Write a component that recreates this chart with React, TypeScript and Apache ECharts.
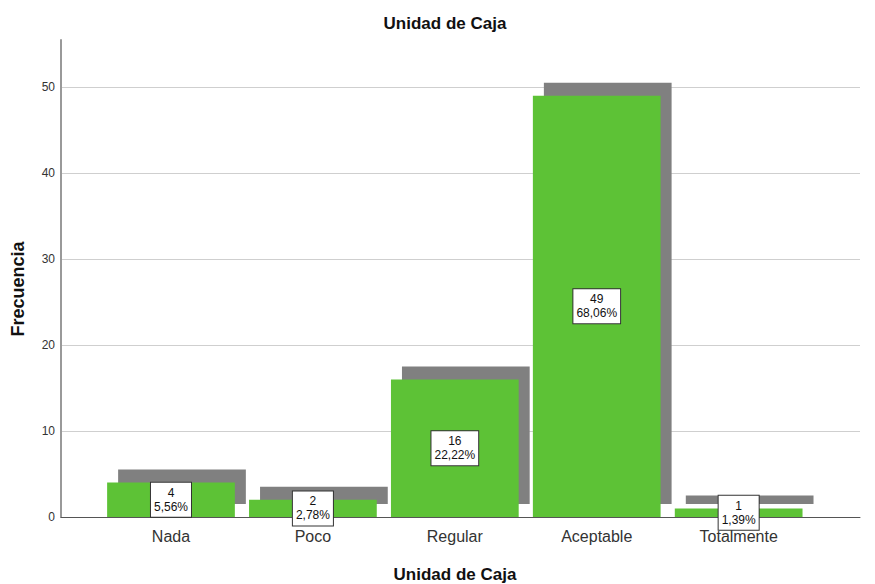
import React, { useEffect, useRef } from "react";
import * as echarts from "echarts";

const categories = ["Nada", "Poco", "Regular", "Aceptable", "Totalmente"];
const counts = [4, 2, 16, 49, 1];
const percentLabels = ["5,56%", "2,78%", "22,22%", "68,06%", "1,39%"];
const yTicks = [0, 10, 20, 30, 40, 50];

const FONT = "'Liberation Sans', Arial, sans-serif";

export default function App() {
  const ref = useRef<HTMLDivElement>(null);
  useEffect(() => {
    if (!ref.current) return;
    document.body.style.margin = "0";
    const chart = echarts.init(ref.current, undefined, { renderer: "svg" });
    const data = counts.map((v, i) => [i, v]);
    chart.setOption({
      animation: false,
      backgroundColor: "#ffffff",
      grid: { left: 61, right: 15, top: 40, bottom: 67 },
      graphic: [
        {
          type: "text",
          x: 445,
          y: 23,
          style: {
            text: "Unidad de Caja",
            font: `bold 17px ${FONT}`,
            fill: "#111",
            align: "center",
            verticalAlign: "middle",
          },
        },
        {
          type: "text",
          x: 455,
          y: 574,
          style: {
            text: "Unidad de Caja",
            font: `bold 17px ${FONT}`,
            fill: "#111",
            align: "center",
            verticalAlign: "middle",
          },
        },
        {
          type: "text",
          x: 18,
          y: 289,
          rotation: Math.PI / 2,
          style: {
            text: "Frecuencia",
            font: `bold 18px ${FONT}`,
            fill: "#111",
            align: "center",
            verticalAlign: "middle",
          },
        },
      ],
      xAxis: {
        type: "value",
        min: -0.775,
        max: 4.855,
        splitLine: { show: false },
        axisTick: { show: false },
        axisLine: { show: true, onZero: false, lineStyle: { color: "#555", width: 1 } },
        axisLabel: {
          customValues: [0, 1, 2, 3, 4],
          formatter: (v: number) => categories[Math.round(v)] ?? "",
          fontFamily: FONT,
          fontSize: 16,
          color: "#333",
          margin: 11,
        },
      },
      yAxis: {
        type: "value",
        min: 0,
        max: 55.47,
        axisLine: { show: true, onZero: false, lineStyle: { color: "#999", width: 2 } },
        axisTick: { show: false, customValues: yTicks },
        splitLine: { show: true, lineStyle: { color: "#cfcfcf", width: 1 } },
        axisLabel: {
          customValues: yTicks,
          fontFamily: FONT,
          fontSize: 12,
          color: "#333",
          margin: 6,
        },
      },
      series: [
        {
          type: "custom",
          data,
          clip: false,
          renderItem: (params: any, api: any) => {
            const i = api.value(0);
            const v = api.value(1);
            const top = api.coord([i, v]);
            const base = api.coord([i, 0]);
            const unit = api.size([1, 0])[0];
            const w = unit * 0.9;
            const x0 = top[0] - w / 2;
            const h = base[1] - top[1];
            return {
              type: "group",
              children: [
                {
                  type: "rect",
                  shape: { x: x0 + 11, y: top[1] - 13, width: w, height: h },
                  style: { fill: "#808080" },
                },
                {
                  type: "rect",
                  shape: { x: x0, y: top[1], width: w, height: h },
                  style: { fill: "#5DC236" },
                },
                {
                  type: "text",
                  x: top[0],
                  y: top[1] + h / 2,
                  z2: 10,
                  style: {
                    text: `${v}\n${percentLabels[i]}`,
                    font: `12px ${FONT}`,
                    fill: "#111",
                    align: "center",
                    verticalAlign: "middle",
                    lineHeight: 14,
                    backgroundColor: "#ffffff",
                    borderColor: "#333",
                    borderWidth: 1,
                    padding: [3, 3],
                  },
                },
              ],
            };
          },
        },
      ],
    });
    return () => chart.dispose();
  }, []);
  return <div ref={ref} style={{ width: 875, height: 584 }} />;
}
